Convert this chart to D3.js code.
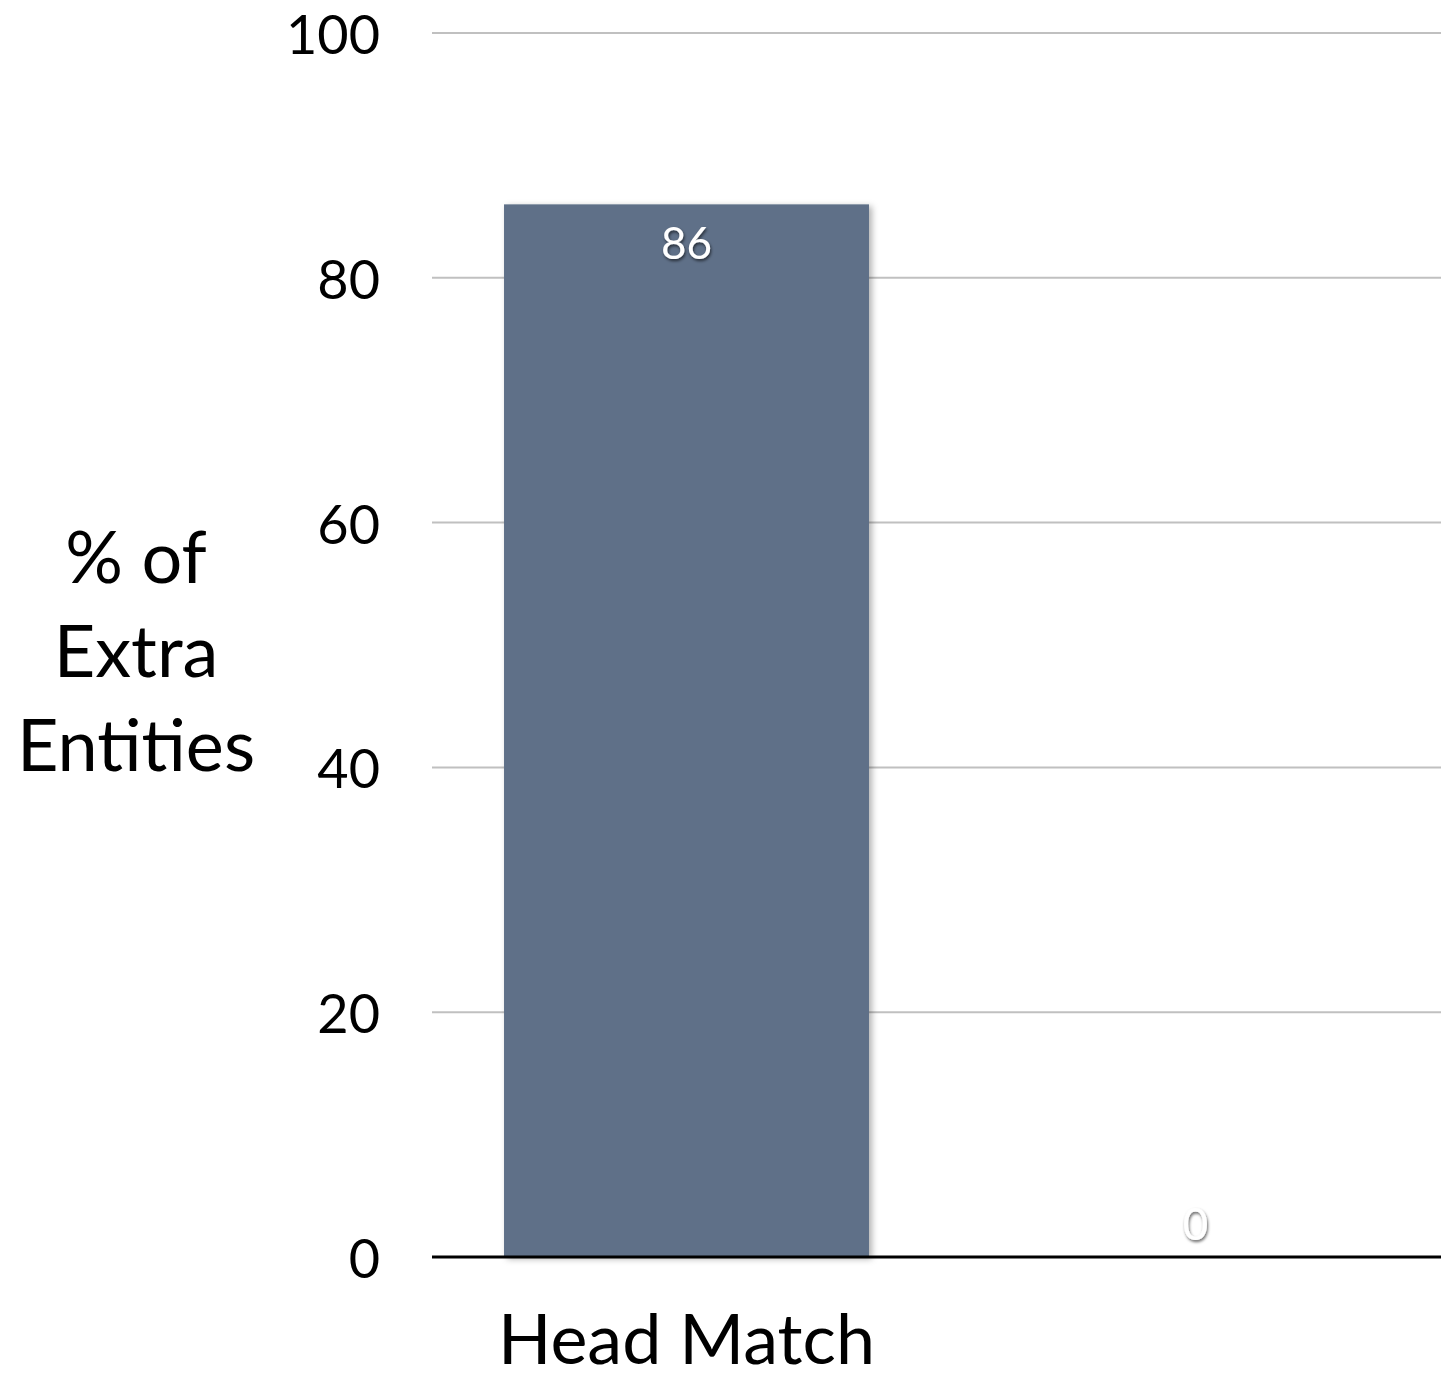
<!DOCTYPE html>
<html><head><meta charset="utf-8">
<script src="https://cdn.jsdelivr.net/npm/d3@7"></script>
<style>body{margin:0;background:#fff}svg{display:block}text{font-family:"Lato","Open Sans",sans-serif}</style>
</head><body>
<script>
const categories = ["Head Match", ""];
const values = [86, 0];
const yTicks = [0, 20, 40, 60, 80, 100];
const yTitle = ["% of", "Extra", "Entities"];

(function(){
const W = 1441, H = 1380;
const svg = d3.select("body").append("svg").attr("width", W).attr("height", H);
const defs = svg.append("defs");
const f = defs.append("filter").attr("id","sh").attr("x","-10%").attr("y","-10%").attr("width","130%").attr("height","130%");
f.append("feDropShadow").attr("dx",3).attr("dy",2).attr("stdDeviation",3).attr("flood-color","#000").attr("flood-opacity",0.3);
const ft = defs.append("filter").attr("id","tsh").attr("x","-30%").attr("y","-30%").attr("width","160%").attr("height","160%");
ft.append("feDropShadow").attr("dx",1).attr("dy",2).attr("stdDeviation",1.5).attr("flood-color","#000").attr("flood-opacity",0.6);

const mLeft = 432, mRight = 1441, mTop = 33, mBottom = 1257;
const y = d3.scaleLinear().domain([0, 100]).range([mBottom, mTop]);
const x = d3.scaleBand().domain(categories).range([432, 1450]).paddingInner(0.283).paddingOuter(0.1415);

// gridlines
svg.append("g").selectAll("line").data(yTicks.filter(d => d > 0)).join("line")
  .attr("x1", mLeft).attr("x2", mRight).attr("y1", d => y(d)).attr("y2", d => y(d))
  .attr("stroke", "#c0c0c0").attr("stroke-width", 2);

// y tick labels
svg.append("g").selectAll("text").data(yTicks).join("text")
  .attr("x", 380).attr("y", d => y(d) + 21).attr("text-anchor", "end")
  .attr("font-size", 54).attr("fill", "#000").text(d => d);

// bars
svg.append("g").selectAll("rect").data(values).join("rect")
  .attr("x", (d, i) => x(categories[i])).attr("width", x.bandwidth())
  .attr("y", d => y(d)).attr("height", d => y(0) - y(d))
  .attr("fill", "#5e7088").attr("filter", "url(#sh)");

// baseline
svg.append("line").attr("x1", mLeft).attr("x2", mRight).attr("y1", mBottom).attr("y2", mBottom)
  .attr("stroke", "#000").attr("stroke-width", 3);

// value labels
svg.append("g").selectAll("text").data(values).join("text")
  .attr("x", (d, i) => x(categories[i]) + x.bandwidth() / 2)
  .attr("y", d => Math.min(y(d) + 55, y(0) - 17)).attr("text-anchor", "middle")
  .attr("font-size", 44).attr("fill", "#fff").attr("filter", "url(#tsh)")
  .text(d => d);

// category labels
svg.append("g").selectAll("text").data(categories).join("text")
  .attr("x", d => x(d) + x.bandwidth() / 2).attr("y", 1364).attr("text-anchor", "middle")
  .attr("font-size", 70).attr("fill", "#000").text(d => d);

// y title
svg.append("g").selectAll("text").data(yTitle).join("text")
  .attr("x", 136).attr("y", (d, i) => 583 + i * 94).attr("text-anchor", "middle")
  .attr("font-size", 72).attr("fill", "#000").text(d => d);
})();
</script>
</body></html>
